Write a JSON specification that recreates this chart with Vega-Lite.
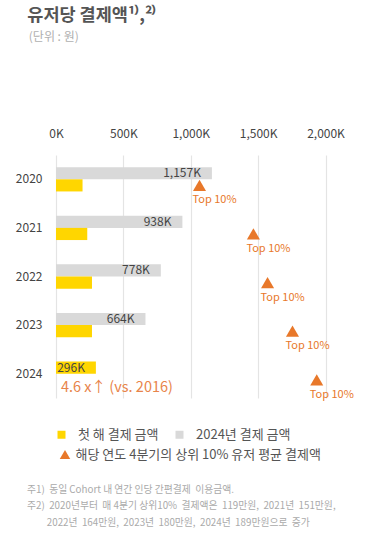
{
  "$schema": "https://vega.github.io/schema/vega-lite/v6.json",
  "padding": {"left": 15, "top": 6, "right": 5, "bottom": 5},
  "background": "white",
  "config": {
    "font": "Noto Sans CJK KR",
    "view": {"stroke": null},
    "concat": {"spacing": 22}
  },
  "datasets": {
    "bars": [
      {"year": "2020", "slot": "top", "series": "2024년 결제 금액", "value": 1157, "label": "1,157K"},
      {"year": "2020", "slot": "bottom", "series": "첫 해 결제 금액", "value": 197, "label": ""},
      {"year": "2021", "slot": "top", "series": "2024년 결제 금액", "value": 938, "label": "938K"},
      {"year": "2021", "slot": "bottom", "series": "첫 해 결제 금액", "value": 232, "label": ""},
      {"year": "2022", "slot": "top", "series": "2024년 결제 금액", "value": 778, "label": "778K"},
      {"year": "2022", "slot": "bottom", "series": "첫 해 결제 금액", "value": 267, "label": ""},
      {"year": "2023", "slot": "top", "series": "2024년 결제 금액", "value": 664, "label": "664K"},
      {"year": "2023", "slot": "bottom", "series": "첫 해 결제 금액", "value": 267, "label": ""},
      {"year": "2024", "slot": "top", "series": "첫 해 결제 금액", "value": 296, "label": "296K"}
    ],
    "top10": [
      {"year": "2020", "slot": "bottom", "series": "해당 연도 4분기의 상위 10% 유저 평균 결제액", "value": 1065, "label": "Top 10%"},
      {"year": "2021", "slot": "bottom", "series": "해당 연도 4분기의 상위 10% 유저 평균 결제액", "value": 1465, "label": "Top 10%"},
      {"year": "2022", "slot": "bottom", "series": "해당 연도 4분기의 상위 10% 유저 평균 결제액", "value": 1570, "label": "Top 10%"},
      {"year": "2023", "slot": "bottom", "series": "해당 연도 4분기의 상위 10% 유저 평균 결제액", "value": 1755, "label": "Top 10%"},
      {"year": "2024", "slot": "bottom", "series": "해당 연도 4분기의 상위 10% 유저 평균 결제액", "value": 1935, "label": "Top 10%"}
    ],
    "note": [
      {"year": "2024", "slot": "bottom", "value": 0, "label": "4.6  x↑ (vs. 2016)"}
    ]
  },
  "vconcat": [
    {
      "width": 269.5,
      "height": 243,
      "title": {
        "text": "\u200b\u00a0\u00a0\u00a0유저당 결제액¹⁾,²⁾",
        "subtitle": "\u200b\u00a0\u00a0\u00a0\u00a0\u00a0(단위 : 원)",
        "orient": "top",
        "anchor": "start",
        "frame": "bounds",
        "offset": 84,
        "fontSize": 17.5,
        "fontWeight": "bold",
        "color": "#555555",
        "subtitleFontSize": 12,
        "subtitleColor": "#B0B0B0",
        "subtitlePadding": 8
      },
      "resolve": {"scale": {"color": "independent"}},
      "encoding": {
        "y": {
          "field": "year",
          "type": "nominal",
          "sort": ["2020", "2021", "2022", "2023", "2024"],
          "scale": {"paddingInner": 0, "paddingOuter": 0},
          "axis": {
            "title": null,
            "domain": false,
            "ticks": false,
            "labelPadding": 14,
            "labelFontSize": 12,
            "labelColor": "#444444"
          }
        },
        "yOffset": {
          "field": "slot",
          "type": "nominal",
          "sort": ["top", "bottom"],
          "scale": {"domain": ["top", "bottom"], "paddingInner": 0, "paddingOuter": 1.025}
        },
        "x": {
          "field": "value",
          "type": "quantitative",
          "scale": {"domain": [0, 2000], "nice": false},
          "axis": {
            "orient": "top",
            "title": null,
            "values": [0, 500, 1000, 1500, 2000],
            "labelExpr": "format(datum.value, ',') + 'K'",
            "labelFlush": false,
            "domain": false,
            "ticks": false,
            "tickSize": 0,
            "labelPadding": 15,
            "labelFontSize": 12,
            "labelColor": "#444444",
            "grid": true,
            "gridColor": "#E4E4E4",
            "gridWidth": 1.2
          }
        }
      },
      "layer": [
        {
          "data": {"name": "bars"},
          "mark": {"type": "bar"},
          "encoding": {
            "color": {
              "field": "series",
              "type": "nominal",
              "scale": {
                "domain": ["첫 해 결제 금액", "2024년 결제 금액"],
                "range": ["#FFD600", "#D9D9D9"]
              },
              "legend": {
                "title": null,
                "orient": "none",
                "legendX": -1,
                "legendY": 273,
                "direction": "horizontal",
                "padding": 0,
                "symbolType": "square",
                "symbolSize": 64,
                "labelFontSize": 13,
                "labelColor": "#555555",
                "labelOffset": 10,
                "columnPadding": 14,
                "labelLimit": 400
              }
            }
          }
        },
        {
          "data": {"name": "bars"},
          "mark": {"type": "text", "align": "right", "baseline": "middle", "dx": -11, "fontSize": 12, "color": "#444444"},
          "encoding": {"text": {"field": "label"}}
        },
        {
          "data": {"name": "top10"},
          "mark": {"type": "point", "filled": true, "opacity": 1, "size": 170},
          "encoding": {
            "color": {
              "field": "series",
              "type": "nominal",
              "scale": {
                "domain": ["해당 연도 4분기의 상위 10% 유저 평균 결제액"],
                "range": ["#E8782A"]
              },
              "legend": {
                "title": null,
                "orient": "none",
                "legendX": 2.5,
                "legendY": 293,
                "direction": "horizontal",
                "padding": 0,
                "symbolType": "triangle-up",
                "symbolSize": 110,
                "labelFontSize": 13,
                "labelColor": "#555555",
                "labelOffset": 4,
                "labelLimit": 400
              }
            },
            "shape": {"value": "triangle-up"}
          }
        },
        {
          "data": {"name": "top10"},
          "mark": {"type": "text", "align": "left", "baseline": "middle", "dx": -7, "dy": 15, "fontSize": 11, "color": "#E8782A"},
          "encoding": {"text": {"field": "label"}}
        },
        {
          "data": {"name": "note"},
          "mark": {"type": "text", "align": "left", "baseline": "middle", "dx": 5, "dy": 8, "fontSize": 14.5, "color": "#E8844A"},
          "encoding": {"text": {"field": "label"}}
        }
      ]
    },
    {
      "width": 269.5,
      "height": 1,
      "data": {"values": [{"blank": ""}]},
      "mark": {"type": "text"},
      "encoding": {"text": {"field": "blank"}},
      "title": {
        "text": [
          "주1)\u00a0 동일 Cohort 내 연간 인당 간편결제\u00a0 이용금액.",
          "주2)\u00a0 2020년부터\u00a0 매 4분기 상위10%\u00a0 결제액은\u00a0 119만원,\u00a0 2021년\u00a0 151만원,",
          "\u200b\u00a0\u00a0\u00a0\u00a0\u00a0\u00a0\u00a0\u00a0\u00a02022년\u00a0 164만원,\u00a0 2023년\u00a0 180만원,\u00a0 2024년\u00a0 189만원으로\u00a0 증가"
        ],
        "orient": "top",
        "anchor": "start",
        "frame": "group",
        "dx": -29,
        "offset": 0,
        "fontSize": 9.8,
        "fontWeight": "normal",
        "color": "#AAAAAA",
        "lineHeight": 16.5
      }
    }
  ]
}
